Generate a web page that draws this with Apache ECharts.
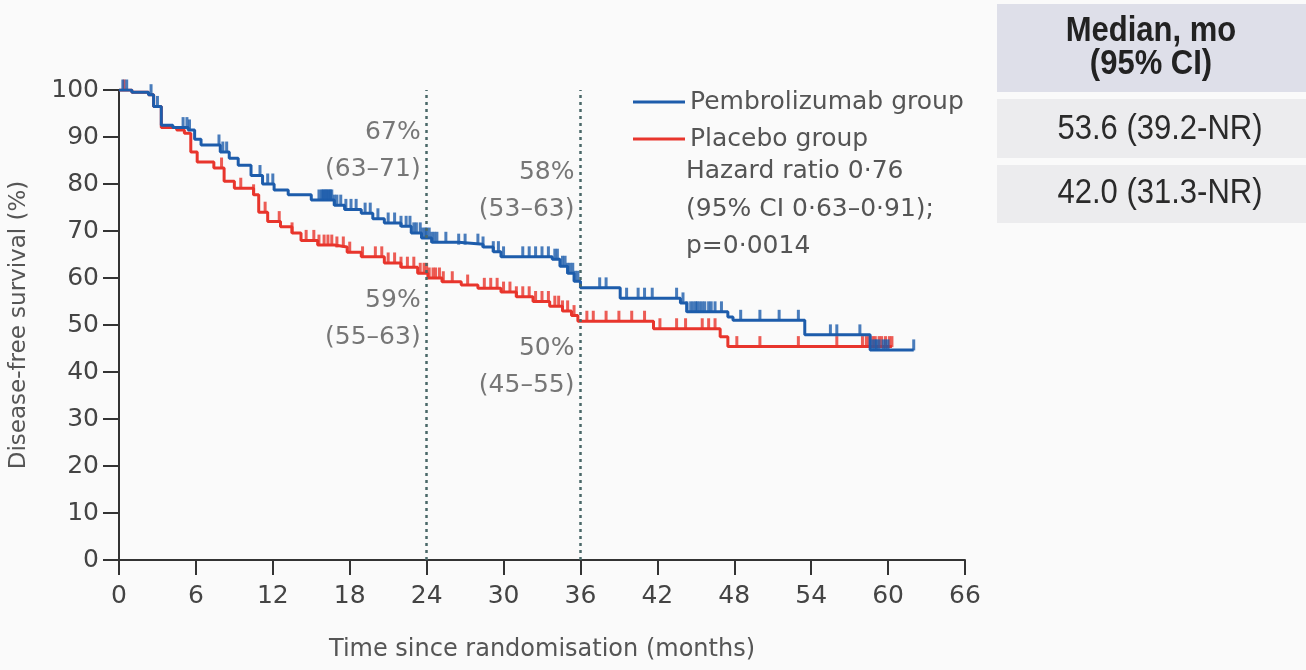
<!DOCTYPE html>
<html><head><meta charset="utf-8">
<script src="https://cdn.jsdelivr.net/npm/echarts@6/dist/echarts.min.js"></script>
<style>html,body{margin:0;padding:0;background:#fafafa}#c{width:1306px;height:670px}</style>
</head><body><div id="c"></div>
<script>
// ---- data ----
const groupNames = ['Pembrolizumab group', 'Placebo group'];
const pembroSteps = [[0,100],[1.0,99.5],[2.3,99],[2.7,96.5],[3.3,92.5],[4.2,92],[5.4,91.5],[5.9,89.5],[6.4,88.3],[7.9,86.8],[8.6,85.5],[9.3,84],[10.3,81.8],[11.2,80],[12.1,78.7],[13.2,77.7],[15.0,76.6],[16.8,75.5],[17.6,74.6],[18.9,73.8],[19.8,72.6],[20.7,71.7],[22.0,71],[22.8,69.6],[23.6,68.5],[24.4,67.6],[26.5,67.2],[28.4,66.6],[29.2,65.6],[29.8,64.5],[33.8,64],[34.4,62.5],[35.0,61],[35.5,59.3],[36.0,57.9],[39.1,55.7],[43.8,54.7],[44.3,52.8],[47.5,51.7],[47.9,51],[53.5,47.9],[58.6,44.7],[62,44.7]];
const placeboSteps = [[0,100],[1.0,99.5],[2.3,99],[2.7,96.5],[3.3,92],[4.5,91.5],[5.1,90.8],[5.6,86.8],[6.1,84.7],[7.4,83.4],[8.2,80.6],[9.0,79.1],[10.5,77.7],[10.9,74],[11.6,72],[12.6,70.9],[13.5,69.6],[14.2,68],[15.5,67],[16.8,66.6],[17.8,65.5],[18.9,64.5],[20.7,63.2],[22.0,62.3],[23.3,61],[24.1,60],[25.2,59.2],[26.7,58.5],[28.0,57.8],[29.8,57],[31.0,56],[32.3,55],[33.6,54],[34.6,53],[35.3,52],[35.8,50.8],[41.7,49.2],[46.9,47.5],[47.5,45.4],[60.3,45.4]];
const pembroCensor = [0.3,0.6,2.5,3.0,5.0,5.3,5.5,7.8,8.1,8.4,11.0,11.6,12.0,15.6,15.8,15.9,16.0,16.1,16.2,16.3,16.4,16.5,16.6,16.8,17.0,17.3,17.7,18.1,18.5,19.2,19.6,20.2,21.0,21.5,22.0,22.4,22.7,23.0,23.2,23.5,23.7,23.9,24.0,24.2,24.4,24.6,24.8,25.5,26.5,27.0,28.0,28.4,29.2,29.6,30.0,31.5,32.0,32.5,33.0,33.5,34.0,34.2,34.6,34.8,35.0,35.2,35.4,35.6,35.8,37.5,38.0,39.6,40.5,41.0,41.6,43.5,44.0,44.3,44.6,44.8,45.0,45.1,45.3,45.5,45.7,46.0,46.2,46.5,47.0,48.5,50.0,51.5,53.0,55.5,56.0,57.8,58.8,59.0,59.1,59.3,59.6,59.8,60.0,62.0];
const placeboCensor = [0.4,8.0,9.5,10.5,11.4,12.5,13.5,14.6,15.2,15.6,16.0,16.3,16.6,17.0,17.5,18.0,19.0,20.0,20.5,21.0,21.5,22.0,22.5,23.0,23.5,23.8,24.0,24.2,24.5,24.7,25.0,25.3,26.0,27.2,28.5,29.0,29.5,30.0,30.5,31.0,31.5,32.0,32.5,33.0,33.5,34.0,34.3,34.6,35.0,35.5,36.5,37.0,38.0,39.0,40.0,41.0,42.2,43.5,44.2,45.5,46.0,46.5,48.2,50.0,53.0,56.0,58.0,58.3,58.5,58.8,59.0,59.3,59.5,59.8,60.1,60.3];
const landmarkMonths = [24, 36];
const landmarkLabels = [
  {x:24, y:87,   text:'67%\n(63–71)'},
  {x:36, y:78.5, text:'58%\n(53–63)'},
  {x:24, y:51.3, text:'59%\n(55–63)'},
  {x:36, y:41,   text:'50%\n(45–55)'}
];
const statsText = ['Hazard ratio 0·76', '(95% CI 0·63–0·91);', 'p=0·0014'];
const tableHeader = ['Median, mo', '(95% CI)'];
const tableRows = ['53.6 (39.2-NR)', '42.0 (31.3-NR)'];
const xTickInterval = 6, xMax = 66, yTickInterval = 10, yMax = 100;

// ---- helpers ----
function valueAt(steps, t) {
  let v = steps[0][1];
  for (const s of steps) { if (s[0] <= t) v = s[1]; else break; }
  return v;
}
const BLUE = '#1d5cab', RED = '#e8352c';
const FONT = 'DejaVu Sans';

const chart = echarts.init(document.getElementById('c'));
const option = {
  backgroundColor: '#fafafa',
  animation: false,
  grid: {left: 118, right: 341, top: 90, bottom: 110},
  xAxis: {
    type: 'value', min: 0, max: xMax, interval: xTickInterval,
    name: 'Time since randomisation (months)', nameLocation: 'middle', nameGap: 78,
    nameTextStyle: {fontFamily: FONT, fontSize: 24, color: '#555'},
    axisLine: {lineStyle: {color: '#333', width: 2}},
    axisTick: {length: 15, lineStyle: {color: '#333', width: 2}},
    axisLabel: {fontFamily: FONT, fontSize: 25, color: '#444', margin: 24},
    splitLine: {show: false}
  },
  yAxis: {
    type: 'value', min: 0, max: yMax, interval: yTickInterval,
    name: 'Disease-free survival (%)', nameLocation: 'middle', nameGap: 88,
    nameTextStyle: {fontFamily: FONT, fontSize: 23, color: '#555'},
    axisLine: {show: true, lineStyle: {color: '#333', width: 2}},
    axisTick: {show: true, length: 16, lineStyle: {color: '#333', width: 2}},
    axisLabel: {fontFamily: FONT, fontSize: 25, color: '#444', margin: 20},
    splitLine: {show: false}
  },
  legend: {
    orient: 'vertical', left: 628, top: 82, itemWidth: 52, itemHeight: 3, itemGap: 7,
    icon: 'rect', data: groupNames,
    textStyle: {fontFamily: FONT, fontSize: 25, color: '#555', lineHeight: 30}
  },
  series: [
    {
      name: groupNames[0], type: 'line', step: 'end', data: pembroSteps,
      showSymbol: false, lineStyle: {color: BLUE, width: 3}, itemStyle: {color: BLUE}, z: 4,
      markLine: {
        silent: true, symbol: 'none', label: {show: false},
        lineStyle: {color: '#4a6868', type: [3, 4], width: 2.5},
        data: landmarkMonths.map(m => [{coord: [m, 0]}, {coord: [m, yMax]}])
      }
    },
    {
      name: groupNames[1], type: 'line', step: 'end', data: placeboSteps,
      showSymbol: false, lineStyle: {color: RED, width: 3}, itemStyle: {color: RED}, z: 3
    },
    {
      name: 'pembroCensor', type: 'scatter', silent: true, z: 4,
      data: pembroCensor.map(t => [t, valueAt(pembroSteps, t)]),
      symbol: 'rect', symbolSize: [3, 11], symbolOffset: [0, -5], itemStyle: {color: BLUE}
    },
    {
      name: 'placeboCensor', type: 'scatter', silent: true, z: 3,
      data: placeboCensor.map(t => [t, valueAt(placeboSteps, t)]),
      symbol: 'rect', symbolSize: [3, 11], symbolOffset: [0, -5], itemStyle: {color: RED}
    },
    {
      name: 'landmarks', type: 'scatter', silent: true, symbolSize: 0,
      data: landmarkLabels.map(l => ({value: [l.x, l.y], label: {formatter: l.text}})),
      label: {show: true, position: 'left', distance: 6, align: 'right',
        fontFamily: FONT, fontSize: 25, color: '#555', lineHeight: 37}
    }
  ],
  graphic: [
    {type: 'text', left: 686, top: 153,
      style: {text: statsText.join('\n'), font: '25px "DejaVu Sans"', fill: '#555', lineHeight: 37.5}},
    {type: 'rect', shape: {x: 997, y: 4, width: 309, height: 88}, style: {fill: '#dedfe9'}},
    {type: 'rect', shape: {x: 997, y: 99, width: 309, height: 59}, style: {fill: '#ececee'}},
    {type: 'rect', shape: {x: 997, y: 165, width: 309, height: 58}, style: {fill: '#ececee'}},
    {type: 'text', x: 1151, y: 48, scaleY: 1.12,
      style: {text: tableHeader.join('\n'), font: 'bold 31px "Liberation Sans"', fill: '#222',
        align: 'center', verticalAlign: 'middle', lineHeight: 29}},
    {type: 'text', x: 1160, y: 129, scaleY: 1.12,
      style: {text: tableRows[0], font: '31px "Liberation Sans"', fill: '#2a2a2a', align: 'center', verticalAlign: 'middle'}},
    {type: 'text', x: 1160, y: 193, scaleY: 1.12,
      style: {text: tableRows[1], font: '31px "Liberation Sans"', fill: '#2a2a2a', align: 'center', verticalAlign: 'middle'}}
  ]
};
chart.setOption(option);
</script></body></html>
